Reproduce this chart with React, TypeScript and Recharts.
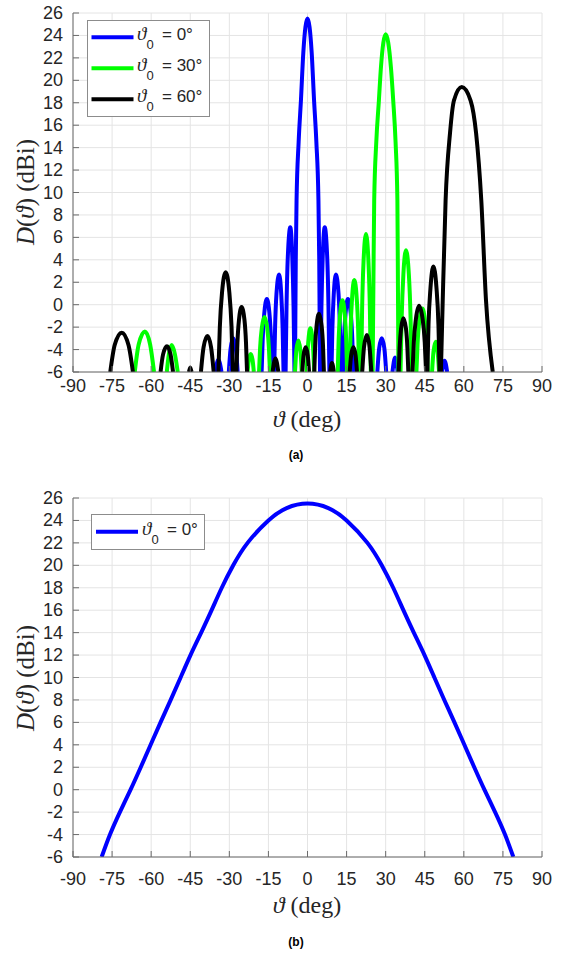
import React from 'react';
import { LineChart, Line, XAxis, YAxis, CartesianGrid } from 'recharts';

type Pt = [number, number];

const xTicks = [-90, -75, -60, -45, -30, -15, 0, 15, 30, 45, 60, 75, 90];
const yTicks = [-6, -4, -2, 0, 2, 4, 6, 8, 10, 12, 14, 16, 18, 20, 22, 24, 26];

const legendA = ['= 0°', '= 30°', '= 60°'];
const legendB = ['= 0°'];

// Panel (a): theta0 = 0 deg (blue) – each lobe (clipped at -6 dBi)
const blueLobes: Pt[][] = [
  [[-35.4, -6], [-34.2, -4.9], [-33.0, -6]],
  [[-30.2, -6], [-29.5, -3.9], [-28.5, -3.0], [-27.5, -3.9], [-26.8, -6]],
  [[-17.6, -6], [-17.2, -3.1], [-16.6, -0.8], [-15.6, 0.5], [-14.6, -0.8], [-14.0, -3.1], [-13.6, -6]],
  [[-12.8, -6], [-12.45, -2.1], [-11.9, 1.0], [-10.9, 2.7], [-10.1, 1.0], [-9.55, -2.1], [-9.2, -6]],
  [[-8.4, -6], [-8.05, -0.2], [-7.55, 4.3], [-6.6, 6.9], [-5.85, 4.3], [-5.35, -0.2], [-5.0, -6]],
  [[-4.8, -6], [-4.5, 4], [-4.2, 9.3], [-3.4, 14.5], [-2.5, 18.3], [-1.6, 22.5], [0, 25.5], [1.6, 22.5], [2.5, 18.3], [3.4, 14.5], [4.2, 9.3], [4.5, 4], [4.8, -6]],
  [[5.0, -6], [5.35, -0.2], [5.85, 4.3], [6.6, 6.9], [7.55, 4.3], [8.05, -0.2], [8.4, -6]],
  [[9.2, -6], [9.55, -2.1], [10.1, 1.0], [10.9, 2.7], [11.9, 1.0], [12.45, -2.1], [12.8, -6]],
  [[13.6, -6], [14.0, -3.1], [14.6, -0.8], [15.5, 0.5], [16.6, -0.8], [17.2, -3.1], [17.6, -6]],
  [[26.8, -6], [27.5, -3.9], [28.5, -3.0], [29.5, -3.9], [30.2, -6]],
  [[32.6, -6], [33.6, -4.7], [34.6, -6]],
  [[51.6, -6], [52.6, -5.0], [53.6, -6]],
];

// theta0 = 30 deg (green)
const greenLobes: Pt[][] = [
  [[-66.3, -6], [-64.8, -3.55], [-62.4, -2.4], [-60.4, -3.55], [-58.9, -6]],
  [[-54.0, -6], [-53.2, -4.4], [-52.1, -3.6], [-50.9, -4.4], [-49.8, -6]],
  [[-23.0, -6], [-22.5, -4.9], [-21.8, -4.4], [-21.1, -4.9], [-20.6, -6]],
  [[-18.6, -6], [-18.2, -3.9], [-17.55, -2.1], [-16.5, -1.1], [-15.45, -2.1], [-14.8, -3.9], [-14.4, -6]],
  [[-4.8, -6], [-4.3, -4.1], [-3.5, -3.2], [-2.7, -4.1], [-2.2, -6]],
  [[-0.3, -6], [0.28, -3.35], [1.1, -2.1], [2.0, -3.35], [2.6, -6]],
  [[11.6, -6], [11.95, -3.1], [12.5, -0.9], [13.4, 0.4], [14.3, -0.9], [14.85, -3.1], [15.2, -6]],
  [[16.2, -6], [16.55, -2.3], [17.1, 0.55], [17.95, 2.2], [18.9, 0.55], [19.45, -2.3], [19.8, -6]],
  [[20.6, -6], [20.95, -0.5], [21.5, 3.8], [22.45, 6.3], [23.4, 3.8], [23.95, -0.5], [24.3, -6]],
  [[25.0, -6], [25.3, 2], [25.6, 9.3], [26.4, 14.5], [27.4, 18.2], [28.2, 21.2], [30.0, 24.1], [32.0, 21.2], [32.9, 18.2], [33.8, 14.5], [34.5, 9.3], [34.7, 2], [34.9, -6]],
  [[35.7, -6], [36.15, -1.1], [36.8, 2.7], [37.8, 4.85], [38.9, 2.7], [39.55, -1.1], [40.0, -6]],
  [[41.8, -6], [42.25, -3.45], [42.9, -1.5], [44.1, -0.35], [45.1, -1.5], [45.75, -3.45], [46.2, -6]],
  [[47.8, -6], [48.35, -4.2], [49.2, -3.3], [49.95, -4.2], [50.5, -6]],
];

// theta0 = 60 deg (black)
const blackLobes: Pt[][] = [
  [[-75.7, -6], [-74.0, -3.6], [-71.3, -2.5], [-68.7, -3.6], [-67.0, -6]],
  [[-56.4, -6], [-55.45, -4.45], [-53.95, -3.7], [-52.55, -4.45], [-51.6, -6]],
  [[-45.5, -6], [-45.0, -5.6], [-44.5, -6]],
  [[-40.9, -6], [-39.9, -3.8], [-38.4, -2.8], [-37.0, -3.8], [-36.0, -6]],
  [[-34.2, -6], [-33.65, -2.0], [-32.8, 1.1], [-31.4, 2.9], [-30.0, 1.1], [-29.15, -2.0], [-28.6, -6]],
  [[-27.3, -6], [-26.9, -3.4], [-26.3, -1.35], [-25.3, -0.2], [-24.2, -1.35], [-23.6, -3.4], [-23.2, -6]],
  [[-13.4, -6], [-12.3, -4.8], [-11.2, -6]],
  [[-2.0, -6], [-1.5, -4.5], [-0.7, -3.8], [0.1, -4.5], [0.6, -6]],
  [[2.6, -6], [2.95, -3.65], [3.5, -1.85], [4.4, -0.8], [5.4, -1.85], [5.95, -3.65], [6.3, -6]],
  [[8.7, -6], [9.4, -5.2], [10.1, -6]],
  [[16.2, -6], [16.75, -4.5], [17.6, -3.8], [18.45, -4.5], [19.0, -6]],
  [[21.0, -6], [21.7, -3.75], [22.8, -2.7], [23.8, -3.75], [24.5, -6]],
  [[35.0, -6], [35.35, -3.9], [35.9, -2.15], [36.8, -1.2], [37.8, -2.15], [38.35, -3.9], [38.7, -6]],
  [[40.3, -6], [40.8, -3.35], [41.6, -1.3], [42.8, -0.1], [44.2, -1.3], [45.0, -3.35], [45.5, -6]],
  [[46.0, -6], [46.45, -1.75], [47.2, 1.5], [48.3, 3.4], [49.5, 1.5], [50.25, -1.75], [50.7, -6]],
  [[51.2, -6], [51.9, 0.4], [53.0, 9.3], [54.7, 15.3], [56.2, 18.2], [59.2, 19.4], [62.6, 18.2], [64.7, 15.3], [66.7, 9.3], [68.5, 0.4], [71.1, -6]],
];

// Panel (b): broadside pattern, theta0 = 0 deg
const bTheta = [-79, -75.8, -72, -67.9, -64, -60.2, -56.4, -52.5, -48.7, -44.9, -40.8, -36.8, -32.9, -28.5, -23, -15, -8, 0, 8, 15, 23, 28.5, 32.9, 36.8, 40.8, 44.9, 48.7, 52.5, 56.4, 60.2, 64, 67.9, 72, 75.8, 79];
const bValue = [-6, -4, -2, 0, 2, 4, 6, 8, 10, 12, 14, 16, 18, 20, 22, 24, 25.1, 25.5, 25.1, 24, 22, 20, 18, 16, 14, 12, 10, 8, 6, 4, 2, 0, -2, -4, -6];

function toSeries(lobes: Pt[][]) {
  const out: { x: number; y: number | null }[] = [];
  lobes.forEach((lobe, i) => {
    if (i > 0) out.push({ x: lobe[0][0], y: null });
    lobe.forEach(([x, y]) => out.push({ x, y }));
  });
  return out;
}

const blueData = toSeries(blueLobes);
const greenData = toSeries(greenLobes);
const blackData = toSeries(blackLobes);
const bData = bTheta.map((x, i) => ({ x, y: bValue[i] }));

const AX = '#6b6b6b';
const TXT = '#262626';
const SANS = '"Liberation Sans", Arial, sans-serif';
const SERIF = '"Liberation Serif", "Times New Roman", serif';
const TICK = 6;
const LW = 4;

const makeBottomTick = (dy: number) => (props: any) => {
  const { x, y, payload } = props;
  return (
    <g>
      <line x1={x} x2={x} y1={y} y2={y - TICK} stroke={AX} />
      <text x={x} y={y + dy} textAnchor="middle" fontFamily={SANS} fontSize={18} fill={TXT}>{payload.value}</text>
    </g>
  );
};
const TopTick = (props: any) => {
  const { x, y } = props;
  return <line x1={x} x2={x} y1={y} y2={y + TICK} stroke={AX} />;
};
const LeftTick = (props: any) => {
  const { x, y, payload } = props;
  return (
    <g>
      <line x1={x} x2={x + TICK} y1={y} y2={y} stroke={AX} />
      <text x={x - 10} y={y + 6} textAnchor="end" fontFamily={SANS} fontSize={18} fill={TXT}>{payload.value}</text>
    </g>
  );
};
const RightTick = (props: any) => {
  const { x, y } = props;
  return <line x1={x} x2={x - TICK} y1={y} y2={y} stroke={AX} />;
};

function Axes({ dy }: { dy: number }) {
  return [
    <CartesianGrid key="g" stroke="#e4e4e4" strokeWidth={1} />,
    <XAxis key="xb" dataKey="x" type="number" domain={[-90, 90]} ticks={xTicks} allowDataOverflow height={68}
      tickSize={0} tickMargin={0} axisLine={{ stroke: AX }} tickLine={false} tick={makeBottomTick(dy)} interval={0} />,
    <XAxis key="xt" xAxisId="top" orientation="top" dataKey="x" type="number" domain={[-90, 90]} ticks={xTicks} allowDataOverflow height={0}
      tickSize={0} tickMargin={0} axisLine={{ stroke: AX }} tickLine={false} tick={TopTick} interval={0} />,
    <YAxis key="yl" type="number" domain={[-6, 26]} ticks={yTicks} allowDataOverflow width={73}
      tickSize={0} tickMargin={0} axisLine={{ stroke: AX }} tickLine={false} tick={LeftTick} interval={0} />,
    <YAxis key="yr" yAxisId="right" orientation="right" type="number" domain={[-6, 26]} ticks={yTicks} allowDataOverflow width={0}
      tickSize={0} tickMargin={0} axisLine={{ stroke: AX }} tickLine={false} tick={RightTick} interval={0} />,
  ];
}

function LegendEntry({ x, y, color, label, lineX }: { x: number; y: number; color: string; label: string; lineX: number }) {
  return (
    <g>
      <line x1={lineX} x2={lineX + 42} y1={y} y2={y} stroke={color} strokeWidth={4} />
      <text x={x} y={y + 3} fontFamily={SERIF} fontStyle="italic" fontSize={19} fill={TXT}>ϑ</text>
      <text x={x + 9.5} y={y + 12} fontFamily={SANS} fontSize={13} fill={TXT}>0</text>
      <text x={x + 25} y={y + 3} fontFamily={SANS} fontSize={17} fill={TXT}>{label}</text>
    </g>
  );
}

function YLabel({ cx, cy }: { cx: number; cy: number }) {
  return (
    <text transform={`translate(${cx},${cy}) rotate(-90)`} textAnchor="middle" fontFamily={SERIF} fontSize={25} fill={TXT} dy={8}>
      <tspan fontStyle="italic">D</tspan>(<tspan fontStyle="italic">ϑ</tspan>) (dBi)
    </text>
  );
}

function XLabel({ cx, y }: { cx: number; y: number }) {
  return (
    <text x={cx} y={y} textAnchor="middle" fontFamily={SERIF} fontSize={24} fill={TXT}>
      <tspan fontStyle="italic">ϑ</tspan> (deg)
    </text>
  );
}

export default function App() {
  const margin = { top: 13, right: 20, left: 0, bottom: 0 };
  const colors = ['#0000ff', '#00ff00', '#000000'];
  return (
    <div style={{ position: 'absolute', left: 0, top: 0, width: 562, height: 954, background: '#fff', overflow: 'hidden' }}>
      <div style={{ position: 'absolute', left: 0, top: 0 }}>
        <LineChart width={562} height={440} margin={margin}>
          {Axes({ dy: 20 })}
          <Line data={blueData} dataKey="y" type="monotone" stroke={colors[0]} strokeWidth={LW} dot={false} isAnimationActive={false} connectNulls={false} />
          <Line data={greenData} dataKey="y" type="monotone" stroke={colors[1]} strokeWidth={LW} dot={false} isAnimationActive={false} connectNulls={false} />
          <Line data={blackData} dataKey="y" type="monotone" stroke={colors[2]} strokeWidth={LW} dot={false} isAnimationActive={false} connectNulls={false} />
        </LineChart>
      </div>
      <div style={{ position: 'absolute', left: 0, top: 485 }}>
        <LineChart width={562} height={440} margin={margin}>
          {Axes({ dy: 28 })}
          <Line data={bData} dataKey="y" type="natural" stroke={colors[0]} strokeWidth={LW} dot={false} isAnimationActive={false} />
        </LineChart>
      </div>
      <svg width={562} height={954} style={{ position: 'absolute', left: 0, top: 0, pointerEvents: 'none' }}>
        <YLabel cx={26} cy={192} />
        <XLabel cx={307} y={427} />
        <text x={296} y={459} textAnchor="middle" fontFamily={SANS} fontWeight="bold" fontSize={12} fill="#000">(a)</text>
        <rect x={87.5} y={20.5} width={122} height={96} fill="#fff" stroke="#8c8c8c" />
        {legendA.map((l, i) => (
          <LegendEntry key={l} x={137} y={37.3 + i * 31} color={colors[i]} label={l} lineX={91.5} />
        ))}

        <YLabel cx={26} cy={678} />
        <XLabel cx={307} y={913} />
        <text x={296} y={946} textAnchor="middle" fontFamily={SANS} fontWeight="bold" fontSize={12} fill="#000">(b)</text>
        <rect x={91.5} y={514.5} width={113} height={35} fill="#fff" stroke="#8c8c8c" />
        {legendB.map((l) => (
          <LegendEntry key={l} x={142} y={531.7} color={colors[0]} label={l} lineX={96} />
        ))}
      </svg>
    </div>
  );
}
